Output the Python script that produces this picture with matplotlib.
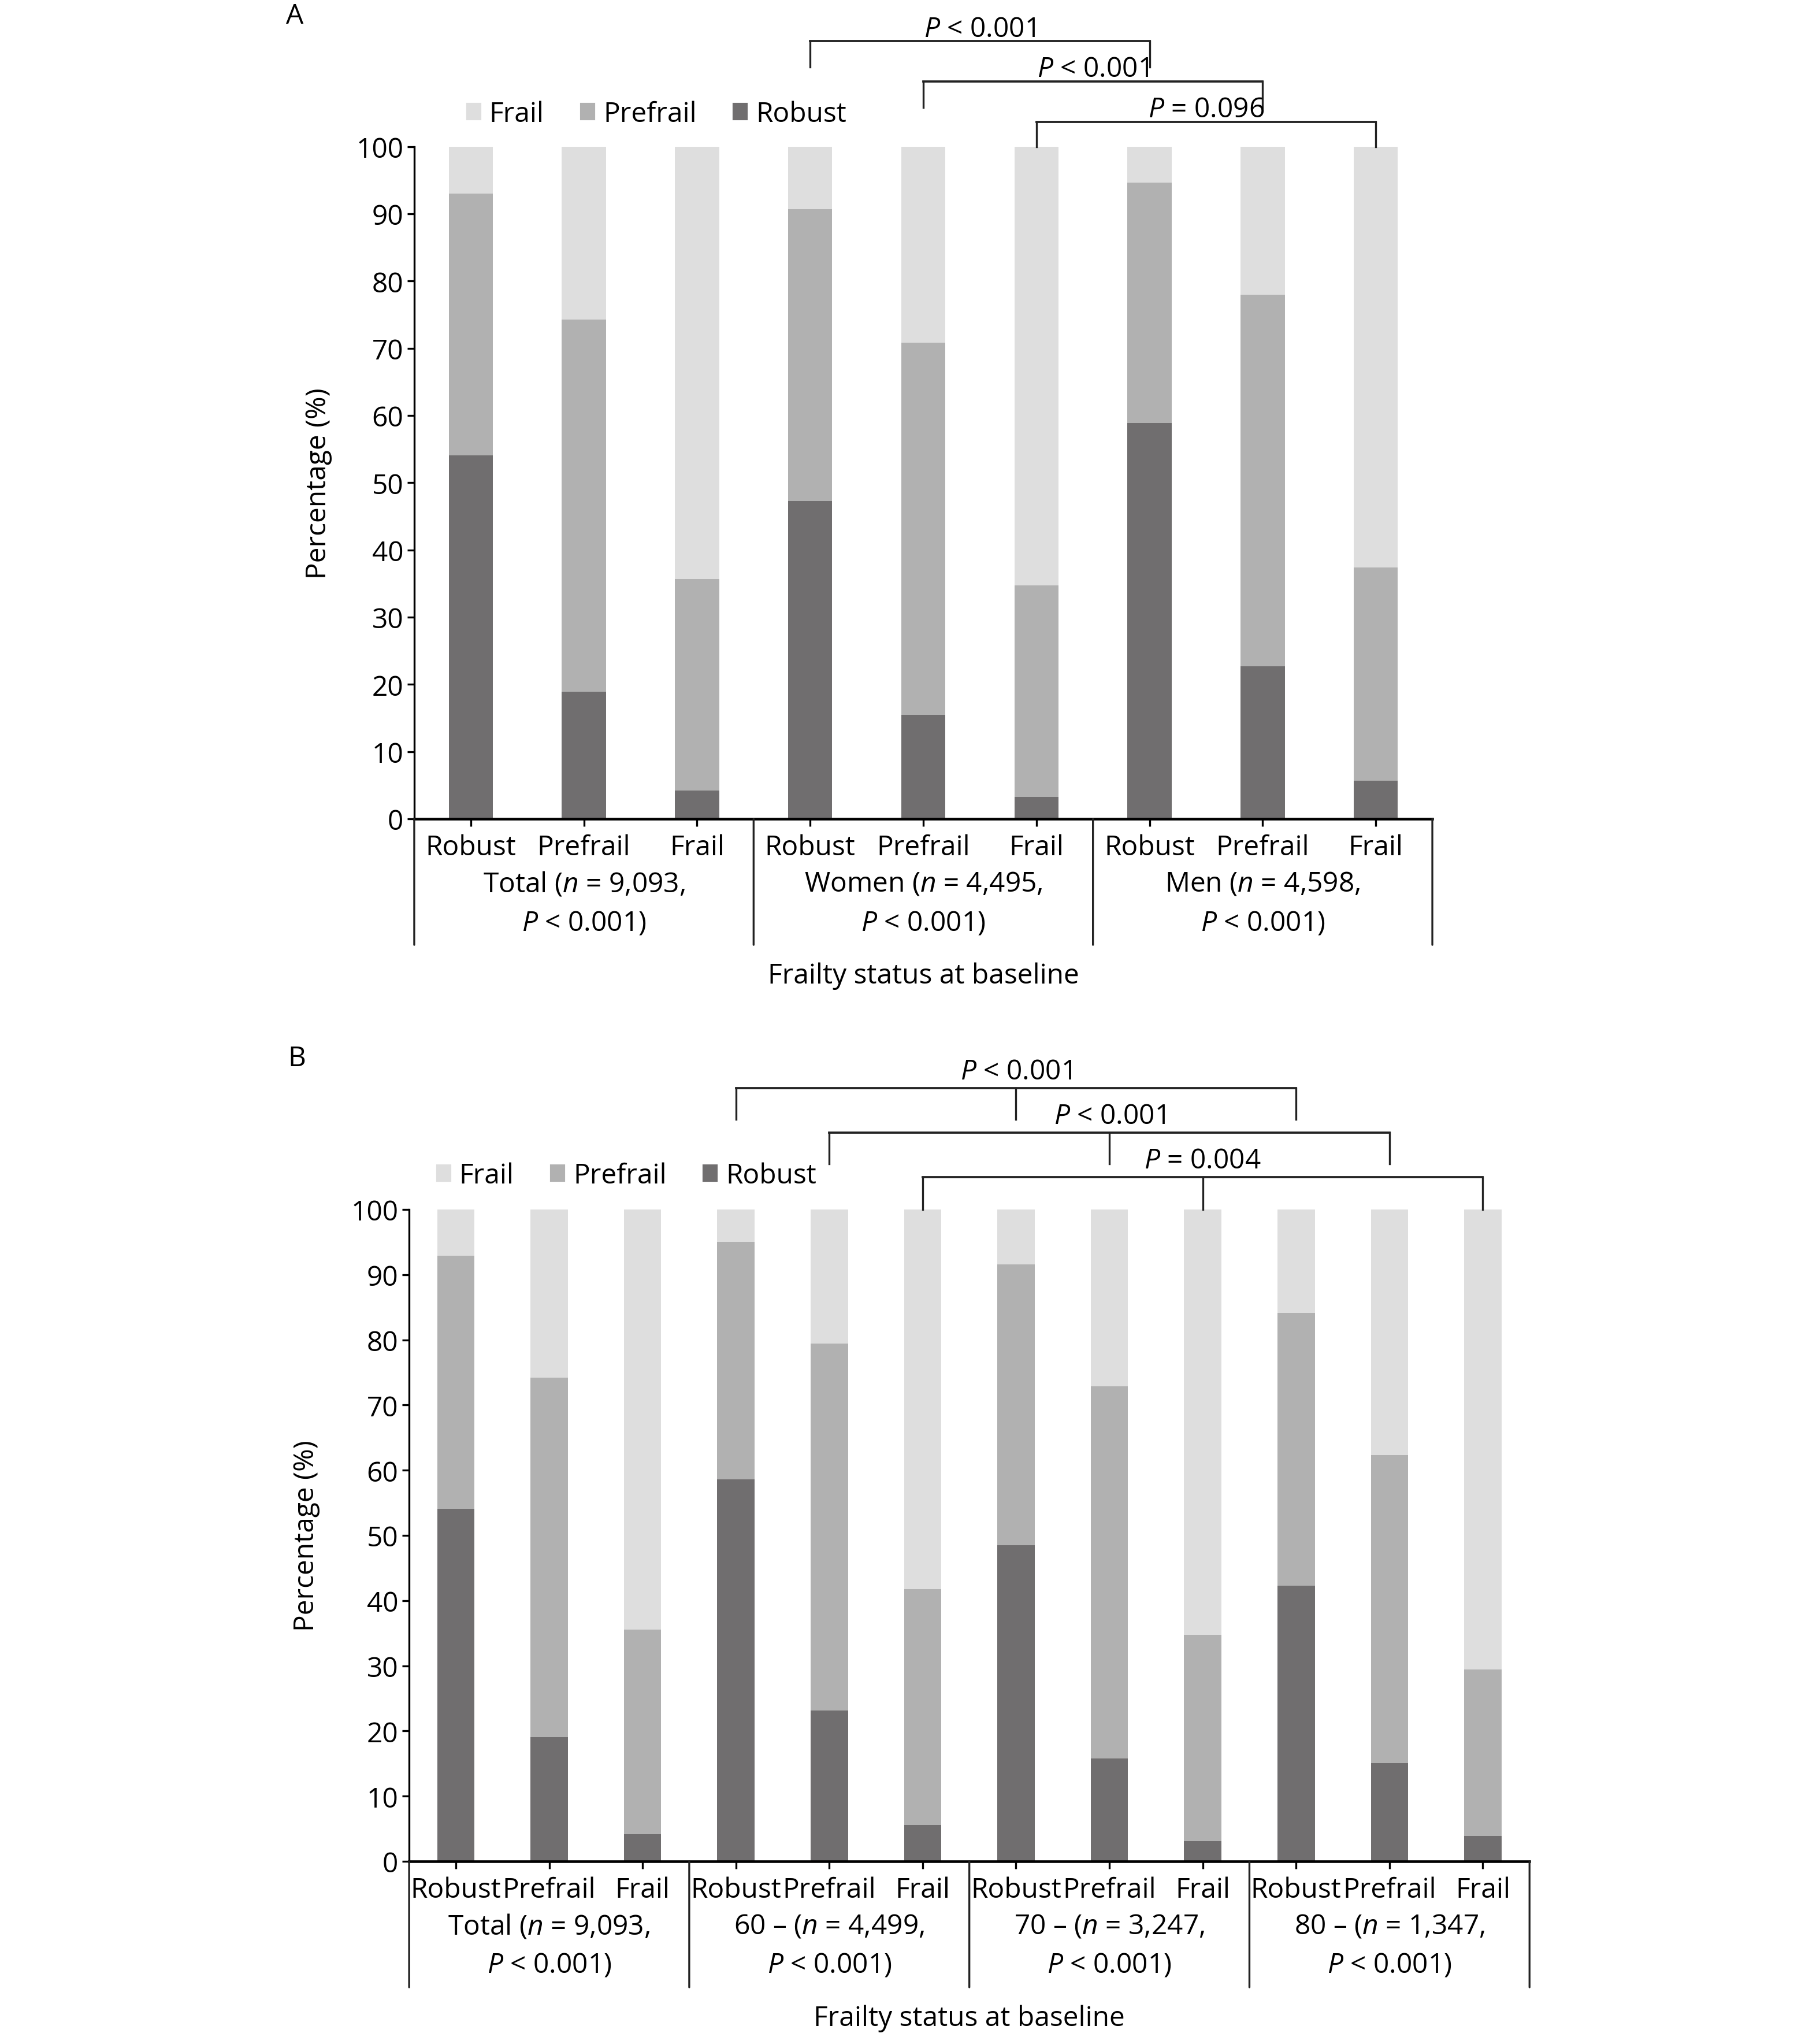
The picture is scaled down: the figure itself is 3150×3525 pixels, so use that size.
import matplotlib
matplotlib.use('Agg')
import matplotlib.pyplot as plt
from matplotlib.patches import Patch
import numpy as np

plt.rcParams['font.family'] = ['Open Sans', 'DejaVu Sans']
plt.rcParams['mathtext.fontset'] = 'custom'
plt.rcParams['mathtext.it'] = 'Open Sans:italic'
plt.rcParams['mathtext.rm'] = 'Open Sans'
plt.rcParams['font.size'] = 11.5

status = ['Robust', 'Prefrail', 'Frail']
legend_labels = ['Frail', 'Prefrail', 'Robust']

# panel A: total / women / men
groups_a = ['Total ($n$ = 9,093,', 'Women ($n$ = 4,495,', 'Men ($n$ = 4,598,']
group_p_a = ['$P$ < 0.001)', '$P$ < 0.001)', '$P$ < 0.001)']
robust_a = [54.1, 18.9, 4.2, 47.3, 15.5, 3.3, 58.9, 22.7, 5.7]
prefrail_a = [38.9, 55.4, 31.5, 43.4, 55.3, 31.4, 35.7, 55.3, 31.7]
frail_a = [7.0, 25.7, 64.3, 9.3, 29.2, 65.3, 5.4, 22.0, 62.6]
# comparisons across groups (bar index lists) and their p values, top to bottom
comp_a = [[3, 6], [4, 7], [5, 8]]
comp_p_a = ['$P$ < 0.001', '$P$ < 0.001', '$P$ = 0.096']

# panel B: total / age groups
groups_b = ['Total ($n$ = 9,093,', '60 \u2013 ($n$ = 4,499,', '70 \u2013 ($n$ = 3,247,',
            '80 \u2013 ($n$ = 1,347,']
group_p_b = ['$P$ < 0.001)', '$P$ < 0.001)', '$P$ < 0.001)', '$P$ < 0.001)']
robust_b = [54.1, 19.1, 4.2, 58.6, 23.1, 5.6, 48.5, 15.8, 3.1, 42.3, 15.1, 3.9]
prefrail_b = [38.8, 55.1, 31.4, 36.4, 56.3, 36.2, 43.1, 57.1, 31.7, 41.8, 47.2, 25.5]
frail_b = [7.1, 25.8, 64.4, 5.0, 20.6, 58.2, 8.4, 27.1, 65.2, 15.9, 37.7, 70.6]
comp_b = [[3, 6, 9], [4, 7, 10], [5, 8, 11]]
comp_p_b = ['$P$ < 0.001', '$P$ < 0.001', '$P$ = 0.004']

c_frail = '#dedede'
c_prefrail = '#b1b1b1'
c_robust = '#706e6f'


def draw_panel(ax, robust, prefrail, frail, groups, group_p, comps, comp_p,
               width, base, step, leg, txt_off, leg_anchor):
    n = len(robust)
    x = np.arange(n)
    robust = np.array(robust)
    prefrail = np.array(prefrail)
    frail = np.array(frail)
    ax.bar(x, robust, width, color=c_robust)
    ax.bar(x, prefrail, width, bottom=robust, color=c_prefrail)
    ax.bar(x, frail, width, bottom=robust + prefrail, color=c_frail)

    ax.set_xlim(-0.5, n - 0.5)
    ax.set_ylim(0, 100)
    ax.set_yticks(range(0, 101, 10))
    ax.spines['top'].set_visible(False)
    ax.spines['right'].set_visible(False)
    ax.spines['left'].set_linewidth(0.8)
    ax.spines['bottom'].set_linewidth(1.1)
    ax.tick_params(axis='y', length=3, width=0.8, pad=1.5)
    ax.set_xticks(x, status * (n // 3))
    ax.tick_params(axis='x', length=3, width=0.8, pad=3)
    ax.set_ylabel('Percentage (%)')

    ng = len(groups)
    for g in range(ng + 1):
        ax.annotate('', xy=(3 * g - 0.5, 0), xycoords=('data', 'axes fraction'),
                    xytext=(0, -52.3), textcoords='offset points',
                    annotation_clip=False,
                    arrowprops=dict(arrowstyle='-', lw=0.8, color='#222222',
                                    shrinkA=0, shrinkB=0))
    for g in range(ng):
        cx = 3 * g + 1
        ax.annotate(groups[g], xy=(cx, 0), xycoords=('data', 'axes fraction'),
                    xytext=(0, -26.9), textcoords='offset points',
                    ha='center', va='center', annotation_clip=False)
        ax.annotate(group_p[g], xy=(cx, 0), xycoords=('data', 'axes fraction'),
                    xytext=(0, -43.0), textcoords='offset points',
                    ha='center', va='center', annotation_clip=False)
    ax.annotate('Frailty status at baseline', xy=(0.5, 0), xycoords='axes fraction',
                xytext=(0, -65), textcoords='offset points',
                ha='center', va='center', annotation_clip=False)

    # comparison brackets, first one on top
    nc = len(comps)
    for k, (idx, ptxt) in enumerate(zip(comps, comp_p)):
        level = nc - 1 - k
        y = base + level * step
        bottom = 100 if level == 0 else y - leg
        ax.plot([idx[0], idx[-1]], [y, y], color='#222222', lw=0.9, clip_on=False)
        for i in idx:
            ax.plot([i, i], [bottom, y], color='#222222', lw=0.8, clip_on=False)
        ax.annotate(ptxt, xy=((idx[0] + idx[-1]) / 2, y), xytext=(0, txt_off),
                    textcoords='offset points', ha='center', va='baseline',
                    annotation_clip=False)

    handles = [Patch(color=c_frail), Patch(color=c_prefrail), Patch(color=c_robust)]
    ax.legend(handles, legend_labels, ncol=3, frameon=False, loc='lower left',
              bbox_to_anchor=leg_anchor, borderpad=0, borderaxespad=0,
              handlelength=0.46, handleheight=0.48, handletextpad=0.33,
              columnspacing=1.35)


fig = plt.figure(figsize=(10.5, 11.7533), dpi=300)
ax_a = fig.add_axes([0.2276, 0.5978, 0.5594, 0.3300])
ax_b = fig.add_axes([0.2248, 0.0862, 0.6156, 0.3199])

draw_panel(ax_a, robust_a, prefrail_a, frail_a, groups_a, group_p_a, comp_a, comp_p_a,
           width=0.39, base=103.7, step=6.0, leg=3.9, txt_off=2.0,
           leg_anchor=(0.052, 1.028))
draw_panel(ax_b, robust_b, prefrail_b, frail_b, groups_b, group_p_b, comp_b, comp_p_b,
           width=0.40, base=105.0, step=6.8, leg=4.8, txt_off=3.8,
           leg_anchor=(0.025, 1.031))
ax_a.yaxis.set_label_coords(-0.0806, 0.5)
ax_b.yaxis.set_label_coords(-0.0794, 0.5)

fig.text(0.162, 0.992, 'A', ha='center', va='center')
fig.text(0.163, 0.4804, 'B', ha='center', va='center')

fig.savefig('out.png', dpi=300)
